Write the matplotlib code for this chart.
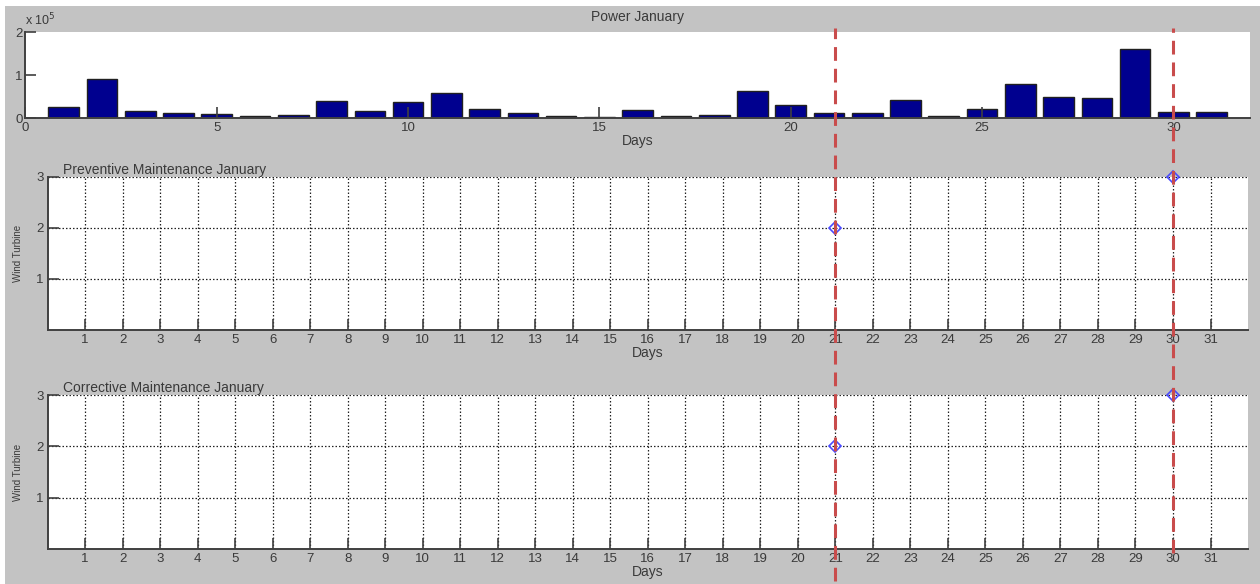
import matplotlib
matplotlib.use("Agg")
import matplotlib.pyplot as plt
import matplotlib.transforms as mtransforms
from matplotlib.lines import Line2D
from matplotlib.patches import Rectangle

plt.rcParams['font.family'] = ['Liberation Sans', 'DejaVu Sans']

# daily power for January (W)
days = list(range(1, 32))
power = [26000, 91000, 17000, 12000, 10000, 5000, 7000, 41000, 16000, 38000,
         58000, 21000, 12000, 5000, 3000, 19000, 5000, 7000, 63000, 32000,
         12000, 13000, 43000, 6000, 21000, 80000, 50000, 47000, 160000, 14000,
         14000]

# maintenance events: day and wind turbine number
prev_days = [21, 30]
prev_turbine = [2, 3]
corr_days = [21, 30]
corr_turbine = [2, 3]

grey = '#c3c3c3'
txt = '#3a3a3a'
axc = '#404040'

fig = plt.figure(figsize=(12.6, 5.84), dpi=100)
fig.patch.set_facecolor('white')
fig.add_artist(Rectangle((5 / 1260, 0), 1, 1 - 6 / 584, transform=fig.transFigure,
                         facecolor=grey, edgecolor='none', zorder=-10))


def style_axes(ax):
    ax.spines['top'].set_visible(False)
    ax.spines['right'].set_visible(False)
    for s in ('left', 'bottom'):
        ax.spines[s].set_color(axc)
        ax.spines[s].set_linewidth(1.4)
    ax.tick_params(direction='in', length=8, width=1.2, color=axc,
                   labelsize=9.5, labelcolor=txt, pad=3)


# ---- power panel
ax1 = fig.add_axes([0.0202, 0.7974, 0.9718, 0.1478])
ax1.bar(days, power, width=0.8, color='#00008f', edgecolor='#202020', linewidth=1)
ax1.set_xlim(0, 32)
ax1.set_ylim(0, 200000)
ax1.set_xticks(range(0, 31, 5))
ax1.set_yticks([0, 100000, 200000])
ax1.set_yticklabels(['0', '1', '2'])
style_axes(ax1)
ax1.tick_params(axis='y', pad=2)
ax1.set_xlabel('Days', fontsize=10, color=txt, labelpad=0)
ax1.set_title('Power January', fontsize=10, color=txt, pad=8)
ax1.text(0.0, 1.04, r'x 10$^5$', transform=ax1.transAxes, fontsize=9, color=txt,
         ha='left', va='bottom')


def maint_panel(rect, title, xs, ys):
    ax = fig.add_axes(rect)
    ax.plot(xs, ys, linestyle='none', marker='D', markersize=6,
            markerfacecolor='none', markeredgecolor='#4a4aff',
            markeredgewidth=1.2, clip_on=False, zorder=5)
    ax.set_xlim(0, 32)
    ax.set_ylim(0, 3)
    ax.set_xticks(days)
    ax.set_yticks([1, 2, 3])
    ax.grid(True, linestyle=(0, (1.2, 1.6)), color='#222222', linewidth=0.9)
    style_axes(ax)
    ax.set_xlabel('Days', fontsize=10, color=txt, labelpad=0)
    ax.set_ylabel('Wind Turbine', fontsize=7, color=txt, labelpad=9)
    ax.text(0.013, 1.0, title, transform=ax.transAxes, fontsize=10, color=txt,
            ha='left', va='bottom')
    return ax


ax2 = maint_panel([0.0377, 0.4349, 0.9528, 0.2625], 'Preventive Maintenance January',
                  prev_days, prev_turbine)
ax3 = maint_panel([0.0377, 0.0599, 0.9528, 0.2637], 'Corrective Maintenance January',
                  corr_days, corr_turbine)

# red dashed markers for the maintenance days across all panels
trans = mtransforms.blended_transform_factory(ax2.transData, fig.transFigure)
ends = [0.005, 0.053]
for d, y0 in zip(prev_days, ends):
    fig.add_artist(Line2D([d, d], [y0, 0.952], transform=trans, color='#c94c4c',
                          linewidth=2.2, dashes=(4.5, 2.6), zorder=20))

fig.savefig('out.png', dpi=100, facecolor=fig.get_facecolor())
